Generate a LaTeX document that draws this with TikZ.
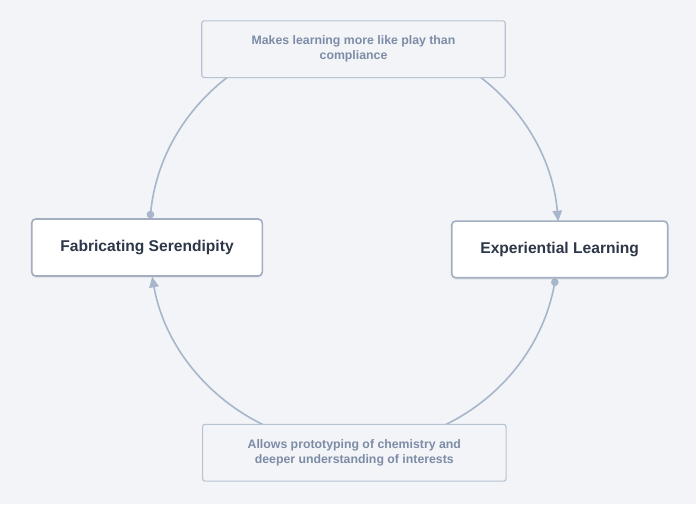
\documentclass[tikz,border=0pt]{standalone}
\usepackage{fontspec}
\setmainfont{Liberation Sans}
\usetikzlibrary{arrows.meta,shadows}
\definecolor{bgc}{HTML}{F2F4F8}
\definecolor{nodeborder}{HTML}{A3AFC0}
\definecolor{nodetext}{HTML}{2D3748}
\definecolor{labtext}{HTML}{7D8CA6}
\definecolor{labborder}{HTML}{B7C3D3}
\definecolor{edgec}{HTML}{A7B6CB}
\pgfdeclarelayer{bglayer}
\pgfdeclarelayer{edgelayer}
\pgfsetlayers{bglayer,edgelayer,main}
\tikzset{
  mainbox/.style={draw=nodeborder, line width=1.6pt, fill=white, rounded corners=4pt,
    minimum height=57pt, inner sep=0pt, text=nodetext,
    font=\fontsize{15.6}{18}\selectfont\bfseries,
    drop shadow={opacity=0.10, shadow xshift=0pt, shadow yshift=-2pt}},
  labbox/.style={draw=labborder, line width=1.1pt, fill=bgc, rounded corners=2.5pt,
    minimum width=303.5pt, minimum height=56.8pt, inner sep=0pt, align=center,
    text=labtext, font=\fontsize{12.3}{15}\selectfont\bfseries},
  edge/.style={draw=edgec, line width=1.6pt},
}
\begin{document}
\begin{tikzpicture}[x=1pt,y=1pt]
\begin{pgfonlayer}{bglayer}
  \fill[bgc] (0,0) rectangle (696,-504);
\end{pgfonlayer}
\useasboundingbox (0,0) rectangle (696,-504);

\node[mainbox, minimum width=230.6pt] (fab) at (147,-247.5) {Fabricating Serendipity};
\node[mainbox, minimum width=216pt, minimum height=56.7pt] (exp) at (559.7,-249.4) {Experiential Learning};
\node[labbox] (toplab) at (353.5,-49.2) {Makes learning more like play than\\compliance};
\node[labbox] (botlab) at (354.3,-452.7) {Allows prototyping of chemistry and\\deeper understanding of interests};

\begin{pgfonlayer}{edgelayer}
  \draw[edge, {Circle[length=7.5pt]}-{Triangle[length=10.5pt,width=9.5pt]}]
    ([xshift=3.08pt]fab.north) arc[start angle=174.12, end angle=5.04, radius=205];
  \draw[edge, {Circle[length=7.5pt]}-{Triangle[length=10.5pt,width=9.5pt]}]
    ([xshift=-4.2pt]exp.south) arc[start angle=-10.60, end angle=-169.89, radius=205];
\end{pgfonlayer}
\end{tikzpicture}
\end{document}
